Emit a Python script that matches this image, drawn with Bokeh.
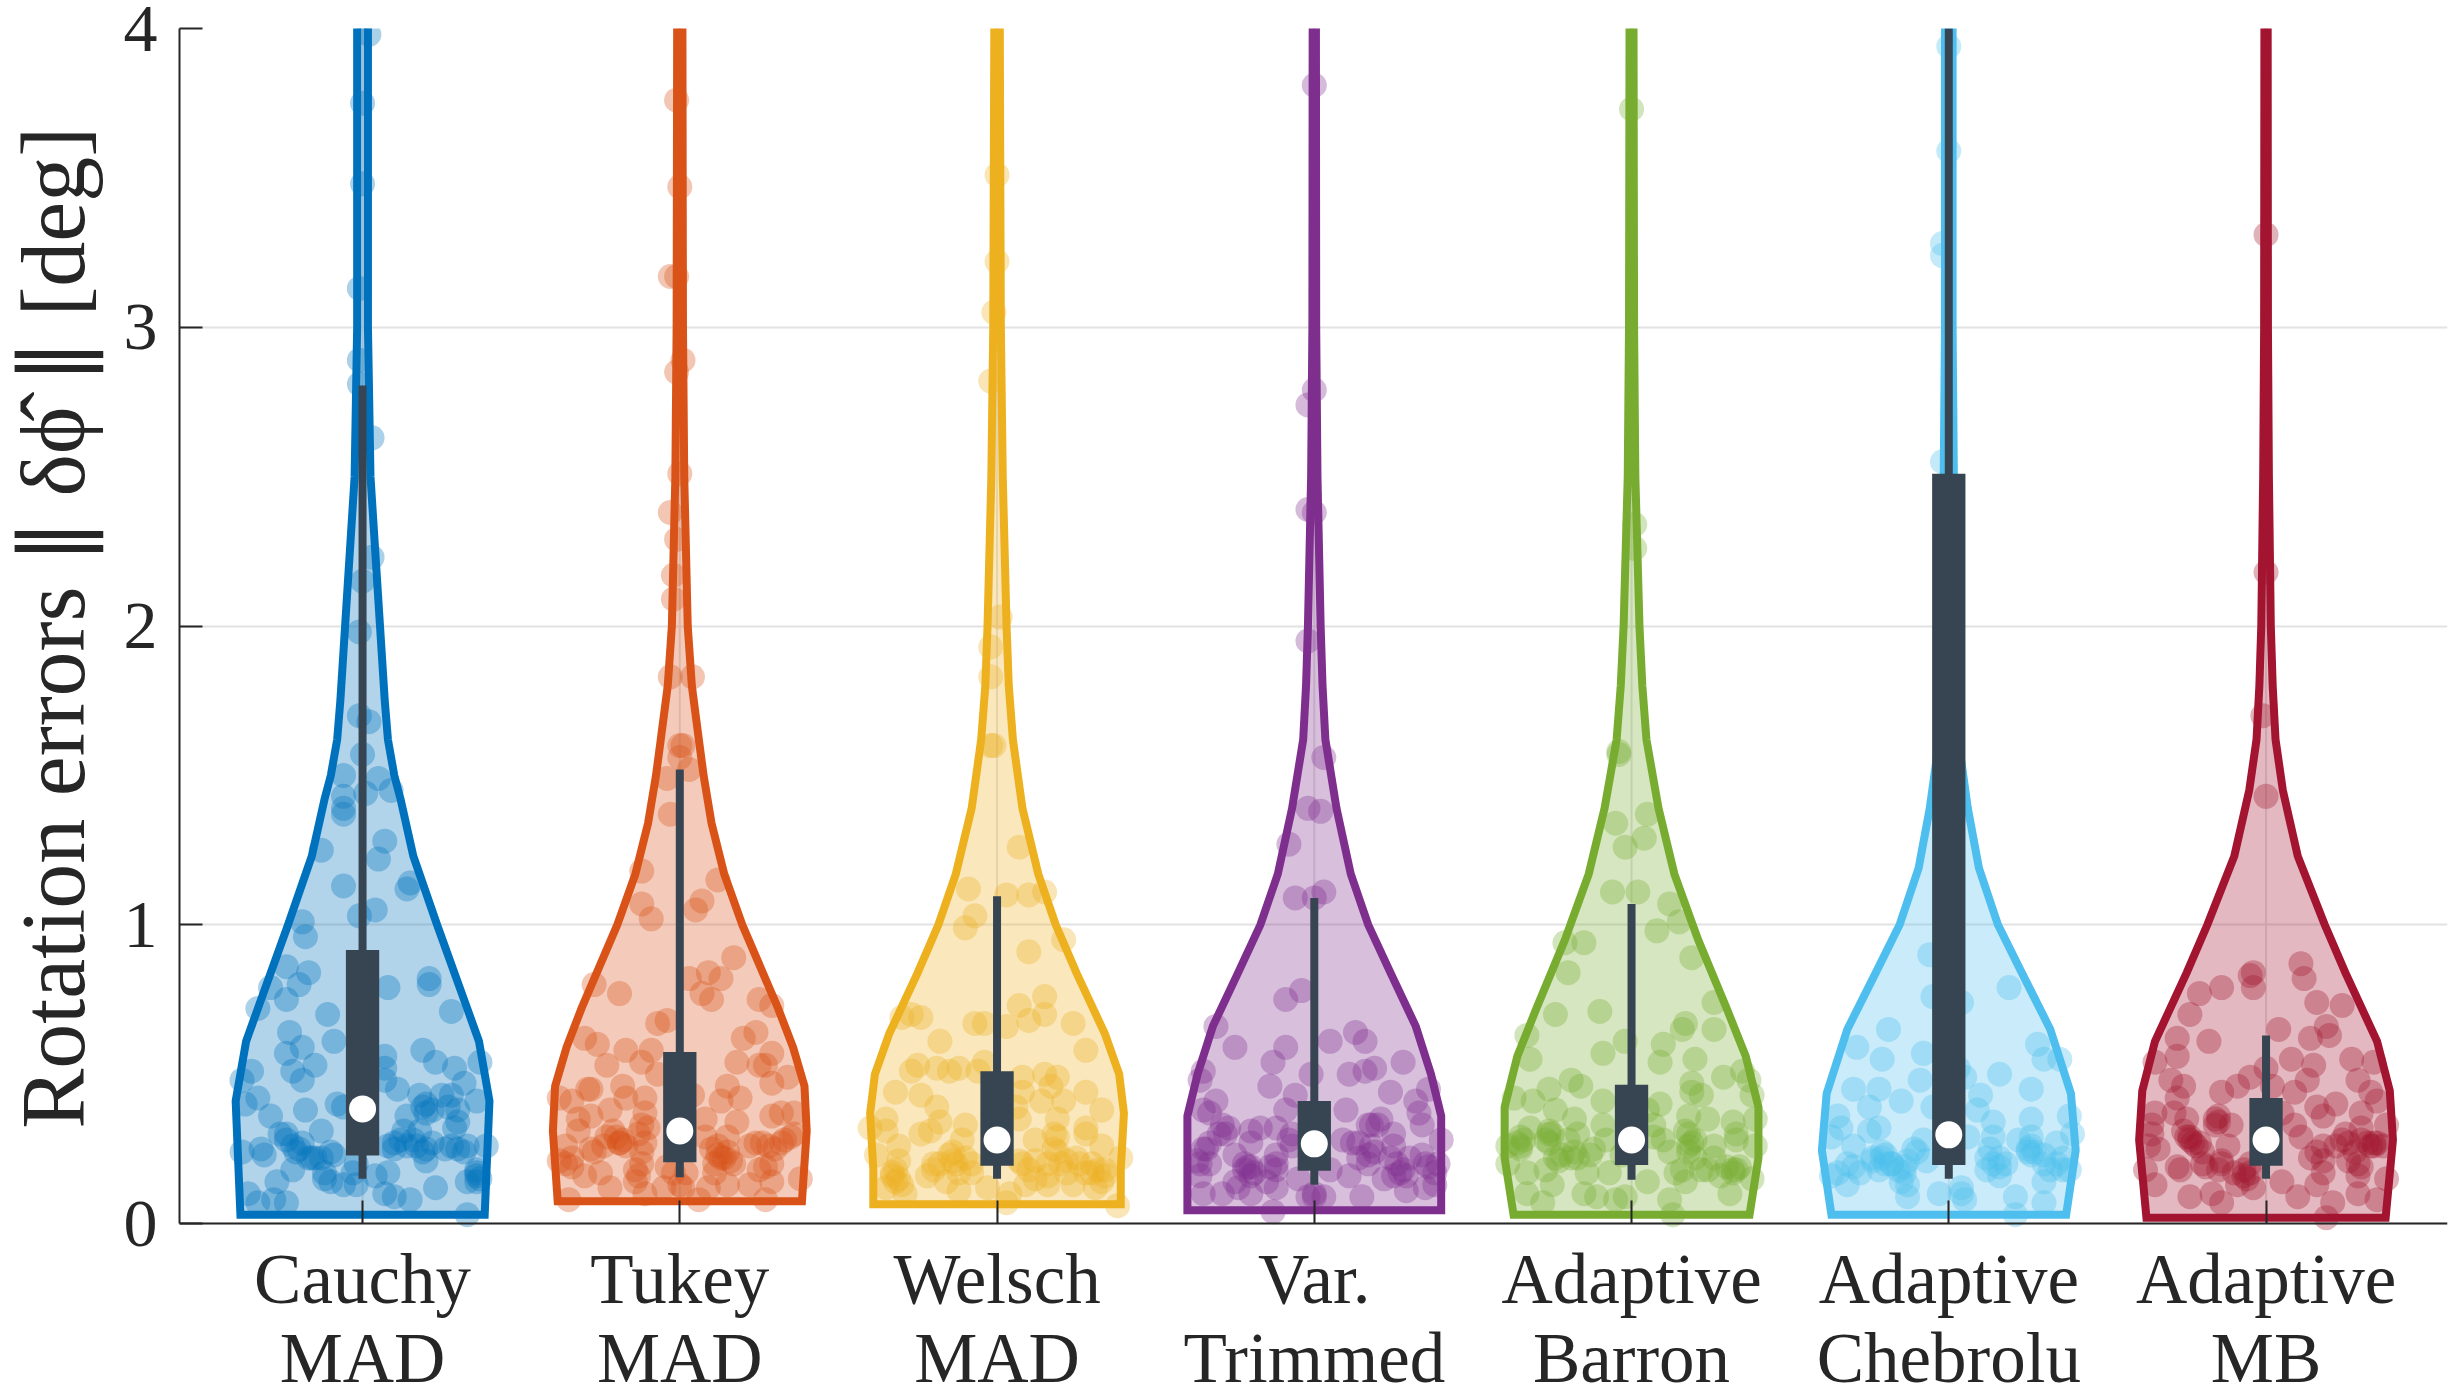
from bokeh.core.properties import value
from bokeh.embed import file_html
from bokeh.models import FixedTicker, Range1d
from bokeh.plotting import figure
from bokeh.resources import INLINE

# (jitter, error) pairs
cauchy_pts = [(0.02,3.98),(0,3.75),(0,3.48),(-0.01,3.13),(-0.01,2.89),(-0.01,2.81),(0.03,2.63),(0.03,2.23),(0,2.15),(-0.01,1.98),
    (-0.01,1.70),(0.02,1.68),(0,1.57),(-0.06,1.50),(0.05,1.49),(-0.06,1.43),(0.01,1.44),(0.09,1.45),(-0.06,1.39),(-0.06,1.37),
    (0.07,1.28),(-0.13,1.25),(0.05,1.22),(-0.06,1.13),(0.14,1.12),(0.15,1.14),(0.04,1.05),(-0.01,1.03),(-0.19,1.01),(-0.18,0.96),
    (-0.24,0.86),(-0.17,0.84),(-0.20,0.80),(-0.29,0.79),(-0.24,0.75),(-0.33,0.72),(0.08,0.79),(0.21,0.82),(0.21,0.80),(-0.11,0.70),
    (0.28,0.71),(-0.23,0.64),(-0.09,0.61),(-0.19,0.59),(-0.24,0.57),(0.19,0.58),(0.07,0.56),(-0.15,0.53),(-0.22,0.51),(-0.19,0.48),
    (-0.35,0.51),(-0.38,0.48),(0.23,0.54),(0.29,0.52),(0.37,0.54),(0.07,0.52),(0.07,0.48),(0.11,0.45),(0.32,0.47),(-0.33,0.42),
    (0.18,0.43),(0.25,0.43),(0.28,0.43),(-0.37,0.40),(-0.18,0.38),(-0.08,0.40),(-0.06,0.39),(0.20,0.40),(0.36,0.41),(0.30,0.38),
    (0.19,0.39),(-0.29,0.36),(0.14,0.36),(0.27,0.39),(-0.13,0.31),(-0.26,0.30),(-0.24,0.30),(0.13,0.31),(0.29,0.32),(-0.22,0.26),
    (-0.38,0.24),(-0.32,0.25),(-0.31,0.23),(0.10,0.27),(0.16,0.28),(0.22,0.27),(0.28,0.26),(0.33,0.26),(0.39,0.26),(-0.09,0.23),
    (-0.15,0.22),(-0.13,0.22),(-0.22,0.18),(0.20,0.21),(0.36,0.18),(0.36,0.14),(-0.03,0.17),(0.08,0.17),(-0.12,0.15),(-0.27,0.14),
    (-0.06,0.13),(-0.02,0.13),(0.33,0.14),(0.23,0.12),(0.07,0.10),(0.10,0.09),(0.15,0.08),(-0.36,0.10),(-0.33,0.07),(-0.28,0.08),
    (-0.24,0.07),(0.33,0.03),(-0.20,0.25),(-0.19,0.27),(-0.21,0.24),(-0.17,0.22),(-0.10,0.24),(0.08,0.26),(0.10,0.25),(0.12,0.28),
    (0.14,0.26),(0.17,0.26),(0.19,0.24),(0.20,0.25),(0.26,0.25),(0.30,0.25),(0.32,0.24),(0.36,0.17),(0.37,0.15),(0.36,0.16),
    (-0.12,0.17),(-0.10,0.14),(-0.16,0.22),(0.04,0.16),(-0.02,0.20),(0.30,0.34),(0.20,0.37),(0.22,0.38),(0.18,0.31),(-0.24,0.28)]
tukey_pts = [(-0.01,3.76),(0,3.47),(-0.01,3.17),(-0.03,3.17),(-0.01,2.85),(0.01,2.89),(0,2.51),(-0.03,2.38),(-0.01,2.29),(-0.02,2.17),
    (-0.02,2.09),(-0.03,1.83),(0.04,1.83),(0.01,1.60),(0,1.60),(0,1.56),(0.03,1.52),(-0.04,1.49),(-0.03,1.37),(-0.12,1.18),
    (0.12,1.15),(-0.12,1.07),(0.07,1.08),(0.05,1.05),(-0.09,1.02),(0.17,0.89),(-0.27,0.80),(-0.19,0.77),(0.03,0.82),(0.09,0.84),
    (0.13,0.82),(0.07,0.77),(0.10,0.75),(0.25,0.75),(0.29,0.73),(-0.04,0.68),(-0.07,0.67),(-0.30,0.62),(-0.26,0.60),(0.20,0.62),
    (0.24,0.64),(-0.17,0.58),(-0.09,0.58),(0.29,0.57),(-0.12,0.54),(-0.23,0.53),(0.18,0.54),(0.25,0.53),(0.27,0.53),(-0.07,0.50),
    (0.34,0.49),(0.29,0.47),(0.15,0.46),(-0.28,0.45),(-0.29,0.45),(-0.18,0.46),(-0.38,0.42),(-0.34,0.41),(-0.17,0.42),(-0.11,0.42),
    (0.04,0.43),(0.13,0.41),(0.19,0.42),(-0.22,0.38),(-0.28,0.36),(-0.32,0.35),(-0.11,0.37),(0.08,0.35),(0.18,0.34),(0.29,0.36),
    (0.32,0.37),(0.36,0.37),(-0.23,0.29),(-0.18,0.28),(-0.12,0.33),(-0.32,0.31),(0.08,0.29),(0.15,0.29),(0.24,0.27),(0.28,0.26),
    (0.35,0.29),(0.33,0.28),(0.36,0.30),(-0.19,0.27),(-0.36,0.26),(-0.28,0.25),(-0.12,0.24),(0.12,0.26),(0.13,0.22),(0.16,0.21),
    (-0.38,0.21),(-0.34,0.19),(-0.25,0.17),(-0.30,0.16),(-0.14,0.18),(-0.04,0.19),(0.11,0.20),(0.25,0.18),(0.29,0.20),(-0.14,0.14),
    (0.02,0.17),(0.38,0.15),(0.15,0.13),(0.29,0.14),(-0.22,0.12),(-0.05,0.12),(0.01,0.12),(-0.35,0.08),(0.06,0.08),(0.27,0.08),
    (-0.11,0.10),(0.09,0.12),(0.22,0.13),(-0.20,0.29),(-0.19,0.27),(-0.21,0.31),(-0.17,0.26),(-0.13,0.30),(-0.10,0.32),(-0.11,0.27),
    (0.10,0.25),(0.12,0.23),(0.14,0.22),(0.15,0.24),(0.17,0.20),(0.22,0.26),(0.26,0.27),(0.30,0.25),(0.32,0.27),(-0.34,0.22),
    (-0.36,0.20),(-0.27,0.24),(-0.24,0.26),(-0.13,0.16),(-0.12,0.20),(-0.02,0.17),(0,0.13),(0.11,0.17),(0.27,0.19)]
welsch_pts = [(0,3.51),(0,3.22),(-0.01,3.05),(-0.02,2.82),(0.01,2.03),(-0.02,1.93),(-0.02,1.83),(-0.01,1.60),(-0.02,1.60),(0.07,1.26),
    (-0.09,1.12),(0.03,1.10),(0.10,1.10),(0.15,1.11),(-0.07,1.03),(-0.10,0.99),(0.10,0.91),(0.21,0.95),(0.15,0.76),(0.07,0.73),
    (0.15,0.70),(0.10,0.68),(-0.27,0.70),(-0.30,0.69),(-0.24,0.69),(-0.07,0.67),(-0.04,0.67),(0.03,0.66),(0.24,0.67),(-0.18,0.61),
    (0.28,0.58),(-0.04,0.54),(-0.25,0.53),(-0.27,0.51),(-0.19,0.52),(-0.15,0.51),(-0.12,0.52),(-0.06,0.51),(0.08,0.49),(0.15,0.50),
    (0.19,0.49),(0.28,0.44),(-0.32,0.44),(-0.24,0.43),(0.08,0.44),(0.17,0.46),(-0.19,0.39),(0.06,0.39),(0.14,0.41),(0.21,0.41),
    (0.33,0.38),(-0.18,0.34),(-0.35,0.35),(-0.40,0.32),(-0.10,0.33),(-0.24,0.30),(-0.21,0.31),(0.07,0.35),(0.19,0.35),(0.28,0.32),
    (-0.35,0.31),(0.12,0.28),(-0.11,0.28),(0.19,0.29),(0.28,0.30),(-0.38,0.23),(-0.31,0.26),(-0.14,0.24),(0.18,0.25),(0.33,0.26),
    (0.39,0.22),(-0.33,0.17),(-0.31,0.21),(-0.20,0.20),(-0.13,0.20),(0.07,0.21),(0.25,0.22),(0.30,0.20),(0.34,0.18),(-0.32,0.14),
    (-0.22,0.16),(-0.16,0.14),(-0.08,0.17),(0.16,0.16),(0.33,0.14),(-0.29,0.10),(-0.12,0.11),(-0.03,0.12),(0.04,0.10),(0.09,0.13),
    (0.16,0.13),(0.24,0.13),(0.31,0.12),(0.03,0.07),(0.38,0.06),(-0.35,0.12),(0.12,0.21),(0.22,0.21),(-0.33,0.16),(-0.32,0.18),
    (-0.31,0.15),(-0.30,0.13),(-0.20,0.18),(-0.18,0.20),(-0.14,0.21),(-0.12,0.17),(-0.10,0.22),(0.08,0.20),(0.10,0.18),(0.16,0.20),
    (0.18,0.30),(0.19,0.24),(0.20,0.20),(0.26,0.20),(0.28,0.17),(0.30,0.17),(0.32,0.18),(0.34,0.16),(-0.15,0.23),(-0.08,0.20),
    (0.12,0.15),(0.22,0.17)]
trimmed_pts = [(0,3.81),(0,2.79),(-0.02,2.74),(-0.02,2.39),(0,2.38),(-0.02,1.95),(0.03,1.56),(-0.02,1.39),(0.02,1.38),(-0.08,1.27),
    (-0.06,1.09),(0.03,1.11),(0,1.09),(-0.04,0.78),(-0.09,0.75),(-0.31,0.66),(-0.25,0.59),(-0.09,0.59),(0.05,0.61),(0.13,0.64),
    (0.16,0.61),(-0.13,0.54),(-0.35,0.51),(-0.36,0.48),(-0.01,0.50),(0.11,0.50),(0.16,0.51),(0.19,0.52),(0.28,0.54),(-0.14,0.46),
    (0.24,0.44),(0.36,0.45),(-0.06,0.43),(-0.31,0.41),(0.10,0.38),(0.32,0.41),(-0.35,0.38),(-0.09,0.38),(0.33,0.37),(0.34,0.33),
    (-0.33,0.37),(-0.29,0.33),(-0.20,0.31),(-0.17,0.32),(-0.12,0.32),(0.18,0.33),(0.21,0.35),(0.09,0.28),(-0.07,0.30),(0.25,0.30),
    (0.40,0.28),(-0.34,0.25),(-0.30,0.30),(-0.25,0.23),(-0.20,0.27),(0.14,0.27),(0.17,0.23),(0.25,0.26),(0.30,0.22),(0.34,0.23),
    (0.39,0.20),(-0.12,0.23),(0.17,0.20),(0.24,0.22),(-0.37,0.21),(-0.22,0.18),(-0.19,0.17),(-0.12,0.18),(0.11,0.16),(-0.36,0.16),
    (0.25,0.16),(0.29,0.16),(0.22,0.15),(0.38,0.13),(-0.15,0.14),(-0.25,0.14),(-0.29,0.10),(-0.35,0.10),(-0.24,0.12),(-0.20,0.10),
    (-0.12,0.12),(0,0.09),(0.03,0.09),(0.15,0.09),(0.29,0.11),(0.35,0.12),(-0.13,0.04),(0.38,0.17),(-0.05,0.15),(0.05,0.18),(-0.33,0.20),
    (-0.35,0.25),(-0.33,0.27),(-0.28,0.30),(-0.27,0.32),(-0.22,0.20),(-0.21,0.19),(-0.20,0.19),(-0.20,0.16),(-0.08,0.28),(-0.07,0.26),
    (-0.14,0.19),(-0.12,0.20),(0.18,0.26),(0.19,0.24),(0.20,0.33),(0.17,0.33),(0.26,0.20),(0.27,0.17),(0.28,0.18),(0.36,0.19),
    (0.35,0.20),(-0.02,0.09),(0,0.10),(-0.36,0.20),(0.14,0.22),(0.12,0.27)]
barron_pts = [(0,3.73),(0.01,2.34),(0.01,2.26),(-0.04,1.57),(-0.04,1.58),(-0.05,1.34),(0.05,1.37),(0.04,1.29),(-0.02,1.26),(-0.06,1.11),
    (0.02,1.11),(0.12,1.07),(0.15,1.01),(0.08,0.98),(-0.21,0.94),(-0.15,0.94),(-0.20,0.84),(0.19,0.89),(0.26,0.74),(-0.24,0.70),
    (-0.10,0.71),(-0.33,0.63),(0.17,0.67),(0.16,0.65),(0.26,0.65),(-0.02,0.61),(0.10,0.60),(-0.09,0.57),(-0.32,0.55),(0.09,0.54),
    (0.20,0.55),(-0.19,0.48),(-0.16,0.46),(0.29,0.49),(0.35,0.51),(0.37,0.48),(0.19,0.47),(0.19,0.44),(-0.26,0.45),(-0.37,0.42),
    (-0.31,0.41),(-0.09,0.41),(0.09,0.40),(0.22,0.43),(0.38,0.43),(-0.24,0.38),(0.05,0.38),(-0.18,0.35),(0.18,0.36),(0.24,0.35),
    (0.32,0.34),(0.39,0.35),(-0.32,0.32),(-0.09,0.33),(-0.26,0.30),(-0.17,0.30),(0.07,0.33),(-0.35,0.29),(-0.39,0.26),(-0.35,0.26),
    (-0.26,0.27),(-0.20,0.28),(0.10,0.28),(0.17,0.31),(0.33,0.30),(0.26,0.26),(0.33,0.28),(0.39,0.26),(-0.23,0.21),(-0.17,0.22),
    (-0.13,0.23),(0.18,0.26),(-0.03,0.23),(-0.39,0.20),(-0.33,0.17),(-0.27,0.18),(-0.14,0.17),(-0.07,0.17),(0.14,0.17),(0.17,0.14),
    (0.24,0.18),(0.32,0.17),(0.38,0.15),(-0.25,0.13),(-0.33,0.10),(-0.15,0.10),(-0.11,0.09),(-0.05,0.08),(-0.02,0.09),(0.05,0.14),
    (0.12,0.08),(-0.28,0.07),(0.31,0.10),(0.13,0.03),(0.07,0.29),(0.20,0.22),(-0.36,0.27),(-0.34,0.28),(-0.35,0.25),(-0.26,0.31),
    (-0.25,0.30),(-0.27,0.28),(-0.22,0.23),(-0.24,0.22),(-0.18,0.24),(-0.19,0.22),(-0.12,0.25),(0.18,0.30),(0.19,0.27),(0.18,0.24),
    (0.20,0.28),(0.26,0.22),(0.30,0.19),(0.32,0.18),(0.33,0.18),(0.34,0.19),(0.16,0.18),(0.22,0.18),(0.28,0.16),(-0.08,0.28),(0.12,0.24)]
chebrolu_pts = [(0,3.94),(0,3.59),(-0.02,3.28),(-0.02,3.24),(-0.02,2.55),(0.01,1.50),(-0.06,0.90),(0.19,0.79),(-0.05,0.76),(0.04,0.74),
    (-0.19,0.65),(-0.29,0.59),(0.28,0.60),(-0.08,0.57),(0.30,0.55),(0.35,0.55),(-0.21,0.55),(0.03,0.52),(0.16,0.50),(0.05,0.49),
    (-0.09,0.48),(-0.30,0.45),(-0.22,0.45),(0.26,0.45),(0.10,0.43),(-0.15,0.41),(-0.05,0.39),(-0.25,0.39),(0.09,0.38),(-0.35,0.36),
    (0.38,0.36),(0.14,0.34),(0.26,0.35),(-0.37,0.29),(-0.34,0.32),(-0.22,0.32),(-0.25,0.31),(0.06,0.29),(0.39,0.30),(0.14,0.29),
    (0.34,0.27),(-0.30,0.26),(-0.11,0.25),(-0.08,0.28),(0.22,0.28),(0.26,0.29),(0.13,0.25),(0.25,0.25),(0.26,0.23),(-0.21,0.24),
    (-0.24,0.22),(-0.20,0.23),(0.16,0.22),(0.30,0.23),(-0.35,0.17),(-0.37,0.16),(-0.28,0.17),(-0.22,0.18),(-0.14,0.17),(-0.07,0.21),
    (0.12,0.18),(0.16,0.16),(0.32,0.18),(0.36,0.18),(0.38,0.18),(-0.32,0.13),(-0.15,0.14),(-0.13,0.09),(-0.03,0.10),(0.04,0.12),
    (0.05,0.08),(0.21,0.09),(0.30,0.07),(0.21,0.03),(-0.13,0.13),(0.30,0.14),(-0.18,0.20),(-0.24,0.21),(-0.21,0.22),(-0.20,0.20),
    (-0.18,0.20),(-0.16,0.18),(-0.14,0.19),(-0.13,0.21),(-0.32,0.20),(-0.30,0.19),(-0.10,0.24),(0.12,0.22),(0.14,0.20),(0.16,0.19),
    (0.18,0.20),(0.25,0.24),(0.26,0.26),(0.27,0.24),(0.30,0.20),(0.34,0.20),(0.36,0.22),(0.04,0.10)]
mb_pts = [(0,3.31),(0,2.18),(-0.01,1.70),(0,1.43),(0.11,0.87),(-0.04,0.84),(-0.05,0.83),(-0.04,0.79),(0.12,0.82),(-0.14,0.79),
    (-0.21,0.77),(0.16,0.74),(0.24,0.73),(-0.24,0.70),(0.19,0.66),(0.04,0.65),(0.14,0.62),(0.20,0.63),(-0.28,0.62),(-0.18,0.61),
    (-0.28,0.56),(-0.35,0.54),(0.08,0.55),(0.15,0.53),(0.27,0.55),(0.34,0.54),(0,0.52),(-0.05,0.49),(0.13,0.48),(0.29,0.48),
    (-0.30,0.48),(-0.26,0.46),(-0.14,0.44),(-0.09,0.46),(0.02,0.46),(0.09,0.44),(0.33,0.44),(-0.28,0.42),(0.35,0.41),(0.16,0.39),
    (0.22,0.40),(0.18,0.36),(-0.35,0.37),(-0.29,0.37),(-0.15,0.36),(-0.16,0.35),(-0.25,0.35),(0.05,0.37),(0.30,0.37),(-0.36,0.33),
    (0.09,0.33),(0.38,0.33),(-0.11,0.33),(-0.26,0.31),(-0.24,0.29),(-0.21,0.27),(0.11,0.29),(0.25,0.30),(0.30,0.32),(0.34,0.27),
    (0.37,0.26),(-0.37,0.26),(-0.34,0.25),(-0.12,0.26),(0.22,0.26),(0.14,0.22),(-0.28,0.19),(-0.14,0.21),(-0.07,0.18),(-0.05,0.17),
    (0.18,0.21),(0.26,0.21),(-0.38,0.18),(-0.27,0.18),(-0.19,0.19),(0.30,0.19),(0.29,0.16),(-0.35,0.13),(0.05,0.14),(0.18,0.17),
    (0.38,0.15),(-0.09,0.13),(-0.04,0.12),(-0.24,0.09),(-0.17,0.10),(-0.14,0.07),(0.10,0.09),(0.21,0.07),(0.29,0.10),(0.35,0.08),
    (0.19,0.02),(0.16,0.13),(-0.15,0.18),(-0.25,0.29),(-0.24,0.28),(-0.23,0.27),(-0.22,0.26),(-0.20,0.24),(-0.15,0.34),(-0.16,0.33),
    (-0.14,0.20),(-0.10,0.17),(-0.07,0.16),(-0.06,0.15),(-0.05,0.20),(0.16,0.24),(0.18,0.26),(0.24,0.28),(0.30,0.28),(0.32,0.27),
    (0.33,0.26),(0.34,0.26),(0.35,0.27),(0.26,0.27),(0.28,0.24),(0.29,0.20),(-0.36,0.30),(-0.20,0.20)]

# violin outlines as (error, half width)
cauchy_shape = [(0.03,0.385),(0.41,0.40),(0.61,0.367),(0.72,0.33),(1.0,0.235),(1.23,0.16),(1.42,0.12),(1.5,0.10),(1.62,0.08),(1.75,0.07),(2.0,0.055),(2.5,0.025),(3.0,0.017),(4.2,0.017)]
tukey_shape = [(0.075,0.385),(0.31,0.40),(0.46,0.393),(0.59,0.357),(0.72,0.31),(1.0,0.197),(1.17,0.14),(1.34,0.10),(1.5,0.075),(1.62,0.06),(1.8,0.038),(2.0,0.025),(2.5,0.014),(3.0,0.01),(4.2,0.008)]
welsch_shape = [(0.065,0.39),(0.18,0.39),(0.37,0.40),(0.50,0.385),(0.635,0.34),(0.84,0.25),(1.0,0.185),(1.17,0.13),(1.39,0.08),(1.62,0.05),(1.8,0.037),(2.0,0.03),(2.5,0.018),(3.0,0.012),(4.2,0.008)]
trimmed_shape = [(0.045,0.40),(0.36,0.40),(0.50,0.368),(0.66,0.32),(0.84,0.24),(1.0,0.17),(1.17,0.115),(1.39,0.07),(1.62,0.035),(1.8,0.026),(2.0,0.02),(2.5,0.01),(3.0,0.006),(4.2,0.005)]
barron_shape = [(0.03,0.372),(0.22,0.40),(0.39,0.40),(0.56,0.36),(0.72,0.30),(0.95,0.21),(1.17,0.135),(1.39,0.085),(1.62,0.047),(1.8,0.034),(2.0,0.025),(2.5,0.012),(3.0,0.008),(4.2,0.006)]
chebrolu_shape = [(0.03,0.37),(0.245,0.40),(0.435,0.385),(0.65,0.32),(0.84,0.23),(1.0,0.155),(1.19,0.095),(1.39,0.06),(1.62,0.03),(2.0,0.02),(3.0,0.012),(4.2,0.012)]
mb_shape = [(0.02,0.377),(0.28,0.40),(0.445,0.39),(0.61,0.35),(0.84,0.25),(1.0,0.185),(1.23,0.10),(1.45,0.053),(1.62,0.03),(1.8,0.021),(2.0,0.015),(2.5,0.009),(3.0,0.006),(4.2,0.005)]

top_labels = ["Cauchy", "Tukey", "Welsch", "Var.", "Adaptive", "Adaptive", "Adaptive"]
bottom_labels = ["MAD", "MAD", "MAD", "Trimmed", "Barron", "Chebrolu", "MB"]
colors = ["#0072BD", "#D95319", "#EDB120", "#7E2F8E", "#77AC30", "#4DBEEE", "#A2142F"]
points = [cauchy_pts, tukey_pts, welsch_pts, trimmed_pts, barron_pts, chebrolu_pts, mb_pts]
shapes = [cauchy_shape, tukey_shape, welsch_shape, trimmed_shape, barron_shape, chebrolu_shape, mb_shape]

medians = [0.384, 0.31, 0.28, 0.267, 0.28, 0.297, 0.28]
q1 = [0.228, 0.205, 0.194, 0.177, 0.196, 0.196, 0.194]
q3 = [0.916, 0.574, 0.51, 0.41, 0.465, 2.51, 0.42]
whisk_lo = [0.15, 0.155, 0.15, 0.13, 0.147, 0.15, 0.15]
whisk_hi = [2.805, 1.52, 1.096, 1.09, 1.07, 4.0, 0.63]

FONT = "Liberation Serif"
DARK = "#374552"
INK = "#262626"
GRID = "#e2e2e2"

# frame runs down to the page bottom so the category names and the dots under y=0 are not clipped
p = figure(width=2449, height=1384, output_backend="svg", toolbar_location=None,
           x_range=Range1d(0.423, 7.572), y_range=Range1d(-0.5385, 4),
           min_border_left=178, min_border_right=2, min_border_top=28, min_border_bottom=0)
p.outline_line_color = None

pos = [i + 1 for i in range(len(colors))]
zeros = [0] * len(pos)
tops = [4] * len(pos)

# vertical grid only between 0 and 4, the built in grid would run on through the names
p.segment(pos, zeros, pos, tops, line_color=GRID, line_width=2)

for i, col in enumerate(colors):
    c = i + 1
    ys = [s[0] for s in shapes[i]]
    ws = [s[1] for s in shapes[i]]
    xs = [c - w for w in ws] + [c + w for w in reversed(ws)]
    yy = ys + ys[::-1]
    p.patch(xs, yy, fill_color=col, fill_alpha=0.3, line_color=None)
    p.scatter([c + q[0] for q in points[i]], [q[1] for q in points[i]], size=25,
              fill_color=col, fill_alpha=0.33, line_color=None)
    p.patch(xs, yy, fill_alpha=0, line_color=col, line_width=8, line_join="miter")

p.segment(pos, whisk_lo, pos, whisk_hi, line_color=DARK, line_width=8, line_cap="butt")
p.vbar(x=pos, width=0.105, bottom=q1, top=q3, fill_color=DARK, line_color=None)
p.scatter(pos, medians, size=27, fill_color="white", line_color=None)

p.text(pos, zeros, text=top_labels, y_offset=55, text_align="center", text_baseline="alphabetic",
       text_font=value(FONT), text_font_size="71px", text_color=INK)
p.text(pos, zeros, text=bottom_labels, y_offset=134, text_align="center", text_baseline="alphabetic",
       text_font=value(FONT), text_font_size="71px", text_color=INK)

p.xaxis.fixed_location = 0
p.xaxis.ticker = FixedTicker(ticks=pos)
p.xaxis.major_label_overrides = {x: "" for x in pos}
p.yaxis.ticker = FixedTicker(ticks=[0, 1, 2, 3, 4])
p.yaxis.bounds = (0, 4)
# leading no-break spaces push the centred label up to the middle of the 0..4 span
p.yaxis.axis_label = "\u00a0" * 7 + "Rotation errors \u2225 \u03b4\u03d5\u0302 \u2225 [deg]"
p.yaxis.axis_label_text_font = FONT
p.yaxis.axis_label_text_font_size = "90px"
p.yaxis.axis_label_text_font_style = "normal"
p.yaxis.axis_label_text_color = INK
p.yaxis.axis_label_standoff = 18

for ax in (p.xaxis, p.yaxis):
    ax.axis_line_color = INK
    ax.axis_line_width = 2
    ax.major_tick_line_color = INK
    ax.major_tick_line_width = 2
    ax.major_tick_in = 23
    ax.major_tick_out = 0
    ax.minor_tick_line_color = None
    ax.major_label_text_font = FONT
    ax.major_label_text_font_size = "68px"
    ax.major_label_text_color = INK
p.yaxis.major_label_standoff = 22
p.xaxis.major_label_standoff = 0

p.xgrid.grid_line_color = None
p.ygrid.grid_line_color = GRID
p.ygrid.grid_line_width = 2

open("out.html", "w").write(file_html(p, INLINE))
